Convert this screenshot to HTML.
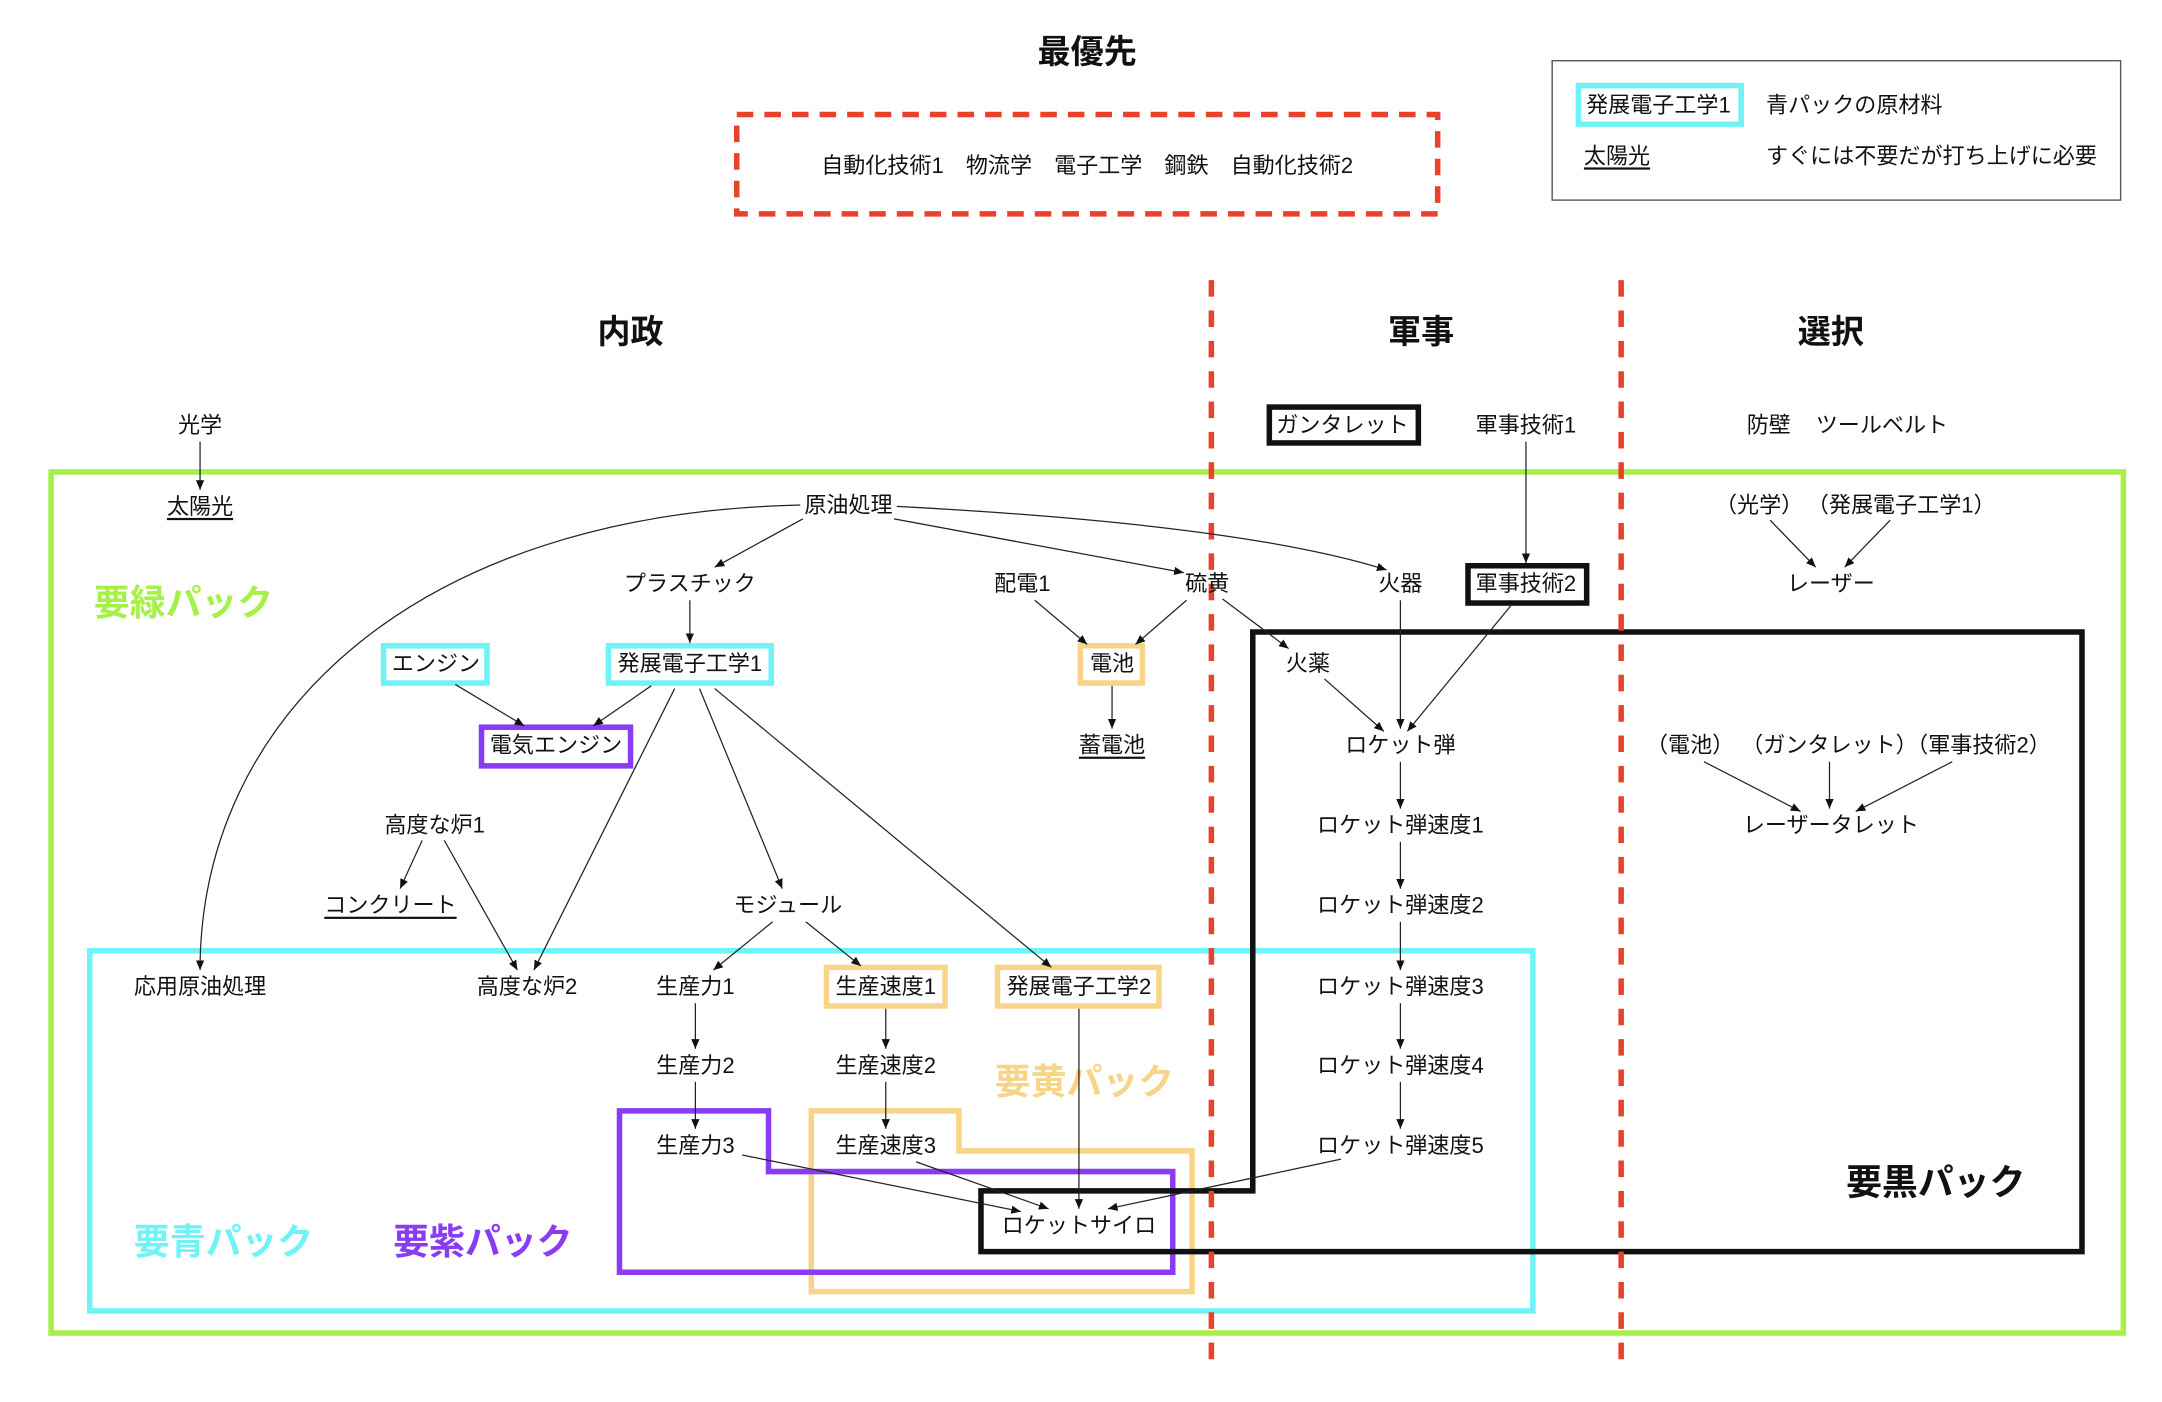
<!DOCTYPE html>
<html><head><meta charset="utf-8">
<style>
html,body{margin:0;padding:0;background:#fff;}
svg{display:block;}
text{font-family:"Liberation Sans","Noto Sans CJK JP",sans-serif;fill:#111;}
.n{font-size:16px;text-anchor:middle;dominant-baseline:central;}
.h{font-size:24px;font-weight:bold;text-anchor:middle;dominant-baseline:central;}
.p{font-size:26px;font-weight:bold;text-anchor:middle;dominant-baseline:central;}
.e{stroke:#222;stroke-width:0.9;fill:none;marker-end:url(#a);}
</style></head><body>
<svg width="2162" height="1402" viewBox="0 0 1567 1016" preserveAspectRatio="none" xmlns="http://www.w3.org/2000/svg">
<defs><marker id="a" markerWidth="8" markerHeight="8" refX="7" refY="4" orient="auto" markerUnits="userSpaceOnUse"><path d="M0,1 L7,4 L0,7 z" fill="#111"/></marker></defs>
<rect width="1567" height="1016" fill="#fff"/>

<text class="h" x="788" y="38">最優先</text>
<rect x="534" y="83" width="508" height="72" fill="none" stroke="#e8412c" stroke-width="4" stroke-dasharray="12 8"/>
<text class="n" x="788" y="120" xml:space="preserve">自動化技術1　物流学　電子工学　鋼鉄　自動化技術2</text>

<rect x="1125" y="44" width="412" height="101" fill="none" stroke="#555" stroke-width="1"/>
<rect x="1144" y="62" width="118" height="28" fill="none" stroke="#6ff3f7" stroke-width="4"/>
<text class="n" x="1202" y="76">発展電子工学1</text>
<text class="n" x="1280" y="76" style="text-anchor:start">青パックの原材料</text>
<text class="n" x="1172" y="113" text-decoration="underline">太陽光</text>
<text class="n" x="1280" y="113" style="text-anchor:start">すぐには不要だが打ち上げに必要</text>

<text class="h" x="457" y="241">内政</text>
<text class="h" x="1030" y="241">軍事</text>
<text class="h" x="1327" y="241">選択</text>

<rect x="37" y="342" width="1502" height="624" fill="none" stroke="#a6f04a" stroke-width="4"/>
<rect x="65" y="689" width="1046" height="261" fill="none" stroke="#6ff3f7" stroke-width="4"/>
<path d="M588,805 L695,805 L695,834 L864,834 L864,936 L588,936 Z" fill="none" stroke="#f8d489" stroke-width="4"/>
<path d="M449,805 L557,805 L557,849 L850,849 L850,922 L449,922 Z" fill="none" stroke="#8a3cf5" stroke-width="4"/>
<path d="M908,458 L1509,458 L1509,907 L711,907 L711,863 L908,863 Z" fill="none" stroke="#111" stroke-width="4"/>

<line x1="878" y1="203" x2="878" y2="995" stroke="#e8412c" stroke-width="4" stroke-dasharray="12 10"/>
<line x1="1175" y1="203" x2="1175" y2="995" stroke="#e8412c" stroke-width="4" stroke-dasharray="12 10"/>

<text class="p" x="133" y="437" style="fill:#a6f04a">要緑パック</text>
<text class="p" x="162" y="900" style="fill:#6ff3f7">要青パック</text>
<text class="p" x="350" y="900" style="fill:#8a3cf5">要紫パック</text>
<text class="p" x="786" y="784" style="fill:#f8d489">要黄パック</text>
<text class="p" x="1403" y="857">要黒パック</text>

<rect x="920" y="295" width="108" height="26" fill="none" stroke="#111" stroke-width="4"/>
<rect x="1064" y="410" width="86" height="27" fill="none" stroke="#111" stroke-width="4"/>
<rect x="278" y="468" width="75" height="27" fill="none" stroke="#6ff3f7" stroke-width="4"/>
<rect x="441" y="468" width="118" height="27" fill="none" stroke="#6ff3f7" stroke-width="4"/>
<rect x="783" y="468" width="45" height="27" fill="none" stroke="#f8d489" stroke-width="4"/>
<rect x="349" y="527" width="108" height="28" fill="none" stroke="#8a3cf5" stroke-width="4"/>
<rect x="599" y="701" width="86" height="28" fill="none" stroke="#f8d489" stroke-width="4"/>
<rect x="723" y="701" width="117" height="28" fill="none" stroke="#f8d489" stroke-width="4"/>

<path class="e" d="M145,320 L145,355"/>
<path class="e" d="M582,376 L518,411"/>
<path class="e" d="M648,376 L858,415"/>
<path class="e" d="M650,367 Q900,380 1005,413"/>
<path class="e" d="M580,366 C300,372 145,520 145,703"/>
<path class="e" d="M500,435 L500,466"/>
<path class="e" d="M750,435 L788,467"/>
<path class="e" d="M860,435 L823,467"/>
<path class="e" d="M886,434 L934,470"/>
<path class="e" d="M1015,435 L1015,528"/>
<path class="e" d="M1106,320 L1106,408"/>
<path class="e" d="M1095,439 L1020,530"/>
<path class="e" d="M960,492 L1003,530"/>
<path class="e" d="M1283,377 L1316,411"/>
<path class="e" d="M1370,377 L1337,411"/>
<path class="e" d="M1235,552 L1305,588"/>
<path class="e" d="M1326,552 L1326,586"/>
<path class="e" d="M1415,552 L1345,588"/>
<path class="e" d="M330,496 L380,526"/>
<path class="e" d="M472,497 L430,526"/>
<path class="e" d="M489,499 L387,703"/>
<path class="e" d="M507,499 L567,644"/>
<path class="e" d="M518,499 L762,701"/>
<path class="e" d="M806,497 L806,528"/>
<path class="e" d="M306,609 L290,644"/>
<path class="e" d="M322,609 L375,703"/>
<path class="e" d="M560,668 L517,703"/>
<path class="e" d="M584,668 L624,700"/>
<path class="e" d="M1015,552 L1015,586"/>
<path class="e" d="M1015,610 L1015,644"/>
<path class="e" d="M1015,668 L1015,703"/>
<path class="e" d="M1015,727 L1015,760"/>
<path class="e" d="M1015,784 L1015,818"/>
<path class="e" d="M504,727 L504,760"/>
<path class="e" d="M504,784 L504,818"/>
<path class="e" d="M642,731 L642,760"/>
<path class="e" d="M642,784 L642,818"/>
<path class="e" d="M538,837 L740,878"/>
<path class="e" d="M664,842 L760,876"/>
<path class="e" d="M782,731 L782,876"/>
<path class="e" d="M972,840 L803,876"/>

<g>
<text class="n" x="145" y="308">光学</text>
<text class="n" x="145" y="367" text-decoration="underline">太陽光</text>
<text class="n" x="615" y="366">原油処理</text>
<text class="n" x="500" y="423">プラスチック</text>
<text class="n" x="741" y="423">配電1</text>
<text class="n" x="875" y="423">硫黄</text>
<text class="n" x="1015" y="423">火器</text>
<text class="n" x="1106" y="423">軍事技術2</text>
<text class="n" x="973" y="308">ガンタレット</text>
<text class="n" x="1106" y="308">軍事技術1</text>
<text class="n" x="1282" y="308">防壁</text>
<text class="n" x="1364" y="308">ツールベルト</text>
<text class="n" x="1275" y="366">（光学）</text>
<text class="n" x="1378" y="366">（発展電子工学1）</text>
<text class="n" x="1327" y="423">レーザー</text>
<text class="n" x="316" y="481">エンジン</text>
<text class="n" x="500" y="481">発展電子工学1</text>
<text class="n" x="806" y="481">電池</text>
<text class="n" x="948" y="481">火薬</text>
<text class="n" x="403" y="540">電気エンジン</text>
<text class="n" x="806" y="540" text-decoration="underline">蓄電池</text>
<text class="n" x="1015" y="540">ロケット弾</text>
<text class="n" x="1225" y="540">（電池）</text>
<text class="n" x="1326" y="540">（ガンタレット）</text>
<text class="n" x="1434" y="540">（軍事技術2）</text>
<text class="n" x="315" y="598">高度な炉1</text>
<text class="n" x="1015" y="598">ロケット弾速度1</text>
<text class="n" x="1327" y="598">レーザータレット</text>
<text class="n" x="283" y="656" text-decoration="underline">コンクリート</text>
<text class="n" x="571" y="656">モジュール</text>
<text class="n" x="1015" y="656">ロケット弾速度2</text>
<text class="n" x="145" y="715">応用原油処理</text>
<text class="n" x="382" y="715">高度な炉2</text>
<text class="n" x="504" y="715">生産力1</text>
<text class="n" x="642" y="715">生産速度1</text>
<text class="n" x="782" y="715">発展電子工学2</text>
<text class="n" x="1015" y="715">ロケット弾速度3</text>
<text class="n" x="504" y="772">生産力2</text>
<text class="n" x="642" y="772">生産速度2</text>
<text class="n" x="1015" y="772">ロケット弾速度4</text>
<text class="n" x="504" y="830">生産力3</text>
<text class="n" x="642" y="830">生産速度3</text>
<text class="n" x="1015" y="830">ロケット弾速度5</text>
<text class="n" x="782" y="888">ロケットサイロ</text>
</g>
</svg>
</body></html>
